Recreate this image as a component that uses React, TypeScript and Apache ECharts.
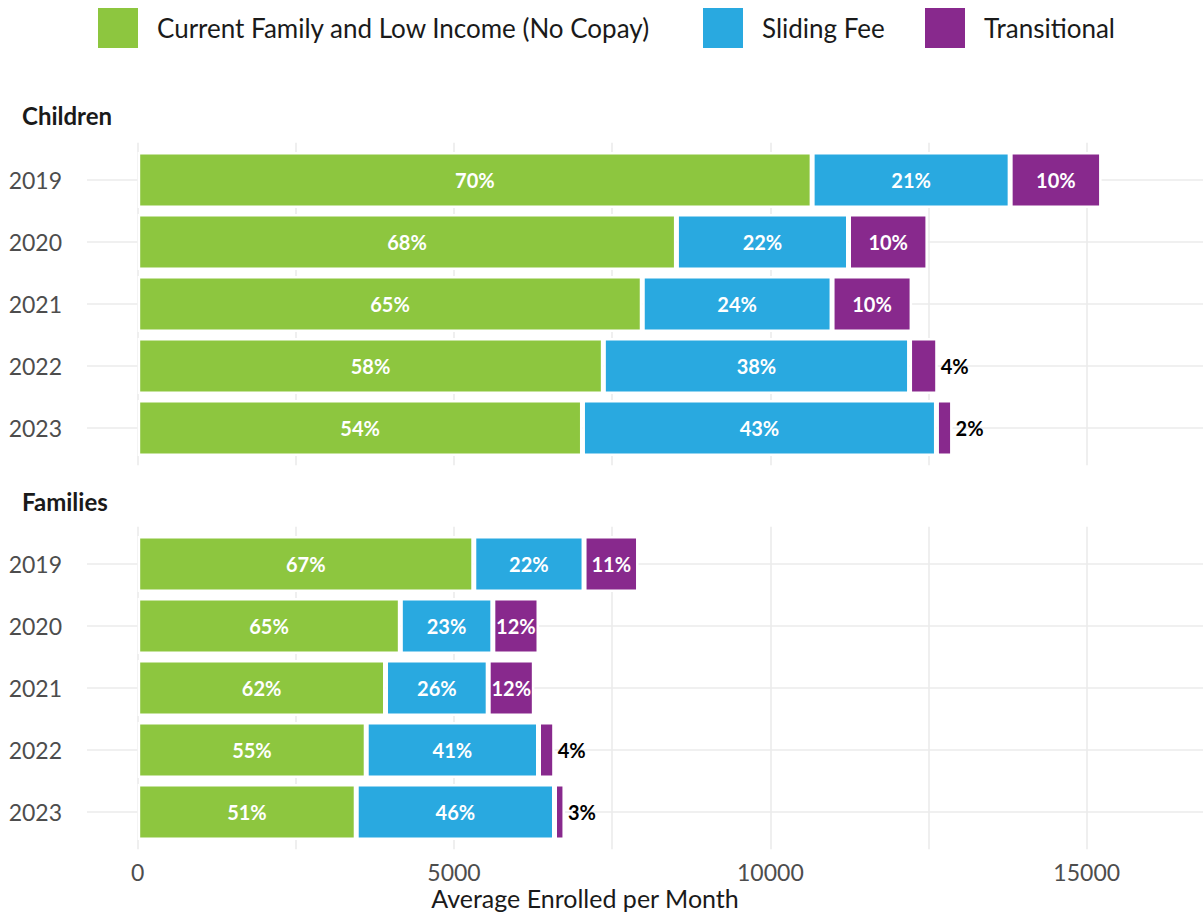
import React, { useEffect, useRef } from "react";
import * as echarts from "echarts";

const years = ["2019", "2020", "2021", "2022", "2023"];
const seriesNames = ["Current Family and Low Income (No Copay)", "Sliding Fee", "Transitional"];
const colors = ["#8DC63F", "#29A9E0", "#88298D"];

const childrenNoCopay = [10660, 8515, 7975, 7360, 7030];
const childrenSliding = [3130, 2720, 3000, 4840, 5595];
const childrenTransitional = [1445, 1255, 1265, 445, 255];
const childrenNoCopayPct = [70, 68, 65, 58, 54];
const childrenSlidingPct = [21, 22, 24, 38, 43];
const childrenTransitionalPct = [10, 10, 10, 4, 2];

const familiesNoCopay = [5312, 4151, 3917, 3612, 3454];
const familiesSliding = [1743, 1462, 1623, 2723, 3134];
const familiesTransitional = [861, 730, 729, 256, 165];
const familiesNoCopayPct = [67, 65, 62, 55, 51];
const familiesSlidingPct = [22, 23, 26, 41, 46];
const familiesTransitionalPct = [11, 12, 12, 4, 3];

const xMax = 17500;
const xInterval = 2500;
const panelTitles = ["Children", "Families"];
const xAxisTitle = "Average Enrolled per Month";

const FONT = "Lato";
const GRID_COLOR = "#ebebeb";
const PX_PER_UNIT = 0.063267;
const LEFT = 137.7;
const GRID_W = xMax * PX_PER_UNIT;

export default function App() {
  const ref = useRef<HTMLDivElement>(null);
  useEffect(() => {
    if (!ref.current) return;
    const chart = echarts.init(ref.current, null, { renderer: "svg" });

    const panels = [
      { values: [childrenNoCopay, childrenSliding, childrenTransitional], pcts: [childrenNoCopayPct, childrenSlidingPct, childrenTransitionalPct], bgTop: 142.8, barTop: 149 },
      { values: [familiesNoCopay, familiesSliding, familiesTransitional], pcts: [familiesNoCopayPct, familiesSlidingPct, familiesTransitionalPct], bgTop: 526.8, barTop: 533 },
    ];

    const grids: any[] = [];
    const xAxes: any[] = [];
    const yAxes: any[] = [];
    const series: any[] = [];

    panels.forEach((p, pi) => {
      const bgIdx = pi * 2;
      const barIdx = pi * 2 + 1;
      grids.push({ left: LEFT, top: p.bgTop, width: GRID_W, height: 322.4, containLabel: false });
      grids.push({ left: LEFT, top: p.barTop, width: GRID_W, height: 310, containLabel: false });
      xAxes.push({
        gridIndex: bgIdx,
        type: "value",
        min: 0,
        max: xMax,
        interval: xInterval,
        axisLine: { show: false },
        axisTick: { show: false },
        splitLine: { show: true, lineStyle: { color: GRID_COLOR, width: 1.6 } },
        axisLabel: {
          show: pi === 1,
          margin: 11,
          fontSize: 23,
          color: "#4d4d4d",
          fontFamily: FONT,
          formatter: (v: number) => (v % 5000 === 0 ? String(v) : ""),
        },
      });
      xAxes.push({ gridIndex: barIdx, type: "value", min: 0, max: xMax, show: false });
      yAxes.push({ gridIndex: bgIdx, type: "value", min: 0, max: 1, show: false });
      yAxes.push({
        gridIndex: barIdx,
        type: "category",
        inverse: true,
        data: years,
        axisLine: { show: false },
        axisTick: { show: true, length: 50.7, alignWithLabel: true, lineStyle: { color: GRID_COLOR, width: 1.6 } },
        splitLine: { show: true, alignWithLabel: true, lineStyle: { color: GRID_COLOR, width: 1.6 } },
        axisLabel: { margin: 75.7, fontSize: 23, color: "#4d4d4d", fontFamily: FONT },
      });
      p.values.forEach((vals, si) => {
        const pct = p.pcts[si];
        series.push({
          name: seriesNames[si],
          type: "bar",
          stack: "panel" + pi,
          xAxisIndex: barIdx,
          yAxisIndex: barIdx,
          barWidth: "90%",
          itemStyle: { color: colors[si], borderColor: "#ffffff", borderWidth: 2.5 },
          label: {
            show: true,
            position: "inside",
            color: "#ffffff",
            fontWeight: "bold",
            fontSize: 20,
            fontFamily: FONT,
            formatter: (d: any) => pct[d.dataIndex] + "%",
          },
          data: vals.map((v, i) =>
            pct[i] < 5
              ? { value: v, label: { position: "right", color: "#000000", distance: 3 } }
              : { value: v }
          ),
        });
      });
    });

    const legendLefts = [98, 703, 925];
    const legends = seriesNames.map((n, i) => ({
      data: [n],
      left: legendLefts[i],
      top: 8,
      padding: 0,
      itemWidth: 40,
      itemHeight: 40,
      icon: "rect",
      selectedMode: false,
      itemStyle: { borderWidth: 0 },
      textStyle: { fontSize: 26, color: "#1a1a1a", fontFamily: FONT, padding: [0, 0, 0, 14] },
    }));

    chart.setOption({
      animation: false,
      backgroundColor: "#ffffff",
      textStyle: { fontFamily: FONT },
      title: [
        { text: panelTitles[0], left: 22, top: 103, padding: 0, textStyle: { fontSize: 24, fontWeight: "bold", color: "#1a1a1a", fontFamily: FONT } },
        { text: panelTitles[1], left: 22, top: 489, padding: 0, textStyle: { fontSize: 24, fontWeight: "bold", color: "#1a1a1a", fontFamily: FONT } },
      ],
      legend: legends,
      grid: grids,
      xAxis: xAxes,
      yAxis: yAxes,
      series,
      graphic: [
        {
          type: "text",
          x: 585,
          y: 898,
          style: { text: xAxisTitle, textAlign: "center", textVerticalAlign: "middle", fontSize: 25, fill: "#1a1a1a", fontFamily: FONT },
        },
      ],
    });
    return () => chart.dispose();
  }, []);
  return (
    <div style={{ position: "absolute", left: 0, top: 0, width: 1203, height: 916, overflow: "hidden", background: "#fff" }}>
      <div ref={ref} style={{ position: "absolute", left: 0, top: 0, width: 1320, height: 916 }} />
    </div>
  );
}
